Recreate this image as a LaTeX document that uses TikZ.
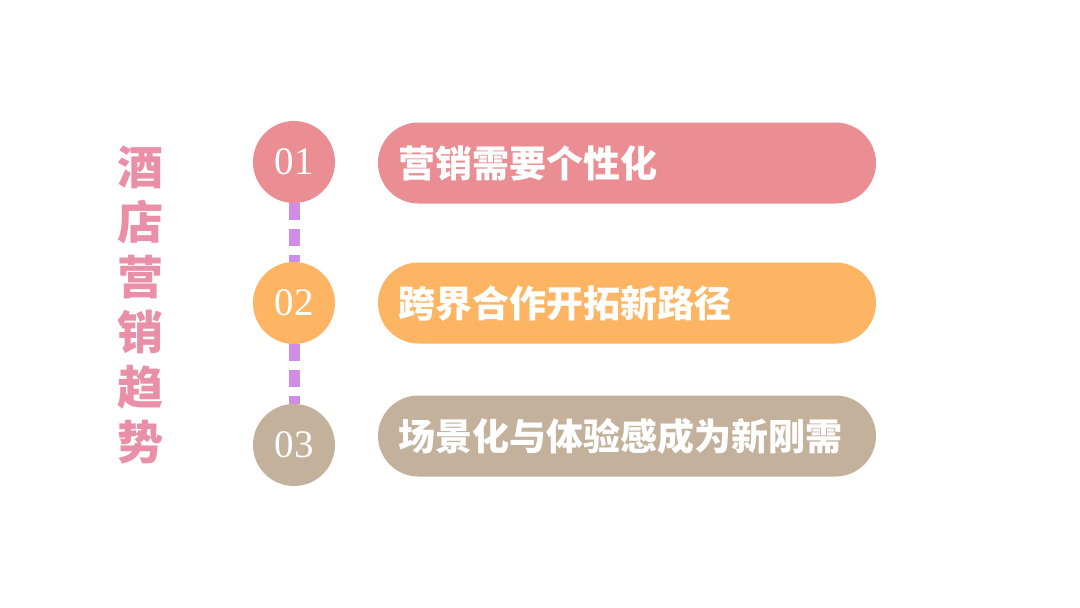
\documentclass[tikz,border=0pt]{standalone}
\usepackage{fontspec}
\usepackage{tikz}
\usetikzlibrary{positioning}
\newfontfamily\cjk{Noto Sans CJK SC}
\newfontfamily\numfont{Liberation Serif}

\definecolor{rose}{HTML}{EA8E94}
\definecolor{apricot}{HTML}{FEB563}
\definecolor{taupe}{HTML}{C3B19C}
\definecolor{lilac}{HTML}{CF8DE8}
\definecolor{titlepink}{HTML}{E98FA8}

\begin{document}
\begin{tikzpicture}[x=1pt, y=-1pt,
  numdot/.style={circle, minimum size=82pt, inner sep=0pt, text=white,
    font=\numfont\fontsize{39}{39}\selectfont},
  pill/.style={rounded corners=40.5pt, minimum height=81pt, text width=458pt,
    inner xsep=20pt, inner ysep=0pt, align=left, text=white,
    font=\cjk\bfseries\fontsize{37}{37}\selectfont},
  dashline/.style={line width=11pt, lilac, dash pattern=on 17pt off 9pt}]
\useasboundingbox[fill=white] (0,0) rectangle (1080,608);

% Title
\node[text=titlepink, align=center, font=\cjk\bfseries\fontsize{46}{55}\selectfont]
  (title) at (140,305) {酒\\店\\营\\销\\趋\\势};

% Number dots
\node[numdot, fill=rose] (n1) at (294,162) {01};
\node[numdot, fill=apricot] (n2) at (294,303) {02};
\node[numdot, fill=taupe] (n3) at (294,445) {03};

% Dashed links
\draw[dashline] (n1.south) -- (n2.north);
\draw[dashline] (n2.south) -- (n3.north);

% Items
\node[pill, fill=rose] (p1) at (627,163) {营销需要个性化};
\node[pill, fill=apricot] (p2) at (627,303) {跨界合作开拓新路径};
\node[pill, fill=taupe] (p3) at (627,436) {场景化与体验感成为新刚需};
\end{tikzpicture}
\end{document}
